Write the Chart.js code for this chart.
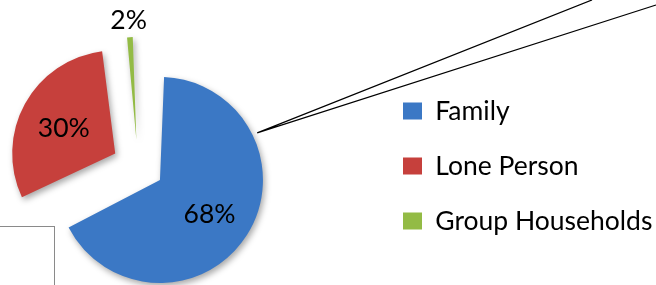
<!DOCTYPE html>
<html>
<head>
<meta charset="utf-8">
<title>Household types</title>
<script src="https://cdn.jsdelivr.net/npm/chart.js@4.4.1/dist/chart.umd.min.js"></script>
<style>
    html, body { margin: 0; padding: 0; background: #ffffff; }
    #wrap { position: relative; width: 656px; height: 285px; overflow: hidden; }
    /* stray frame from the source page, bottom left */
    #frame { position: absolute; left: -2px; top: 226px; width: 56px; height: 80px;
             border-top: 1px solid #8a8a8a; border-right: 1px solid #8a8a8a; }
    /* the canvas is wider than the window on both sides (overflow hidden),
       so the pie can sit close to the left edge and the legend reach the right edge */
    #householdChart { position: absolute; left: -120px; top: 0; }
</style>
</head>
<body>
<div id="wrap">
    <div id="frame"></div>
    <canvas id="householdChart" width="816" height="285"></canvas>
</div>
<script>
// --- DATA ---
const categories = ['Family', 'Lone Person', 'Group Households'];
const shares = [68, 30, 2];
const sliceColors = ['#3b78c5', '#c6403c', '#93bb45'];

// --- LOOK ---
const SHIFT = 120;        // canvas starts this far left of the window
const VIEW_W = 656;
const CANVAS_W = 816, CANVAS_H = 285;
const PIE_R = 103;        // outer radius of every slice
const EXPLODE = 26;       // how far each slice is pulled out
const FONT = { family: 'Lato', size: 26.5 };
const LEGEND_GAP = 28.5;  // legend padding (row step = size + gap)
const LEGEND_SWATCH = 19;
const LEGEND_BOX_X = 403 + SHIFT; // where the legend squares should start
const PIE_CX = 138 + SHIFT, PIE_CY = 166;

// legend width depends on the widest label, so measure it first
// (Chart.js adds 10px to a vertical legend's width)
const measureCtx = document.createElement('canvas').getContext('2d');
measureCtx.font = `${FONT.size}px ${FONT.family}`;
const widest = Math.max(...categories.map(c => measureCtx.measureText(c).width));
const itemWidth = LEGEND_SWATCH + FONT.size / 2 + widest + 10;
const padRight = Math.max(CANVAS_W - LEGEND_BOX_X - itemWidth, 0);
const padLeft = Math.max(2 * PIE_CX - (LEGEND_BOX_X - LEGEND_GAP), 0);
const padTop = 2 * PIE_CY - CANVAS_H;

// Chart.js grows the outer radius of an exploded arc, pull it back so all slices match
const explodeFix = {
    id: 'explodeFix',
    afterDatasetUpdate(chart, args) {
        args.meta.data.forEach(arc => {
            const fix = 1 - Math.sin(Math.min(Math.PI, arc.circumference));
            arc.outerRadius = PIE_R - EXPLODE * fix;
        });
    }
};

// soft drop shadow under the slices
const sliceShadow = {
    id: 'sliceShadow',
    beforeDatasetsDraw(chart) {
        const ctx = chart.ctx;
        ctx.save();
        ctx.shadowColor = 'rgba(0,0,0,0.35)';
        ctx.shadowBlur = 6;
        ctx.shadowOffsetX = 2;
        ctx.shadowOffsetY = 3;
    },
    afterDatasetsDraw(chart) {
        chart.ctx.restore();
    }
};

// percentage labels, small slices go outside
const sliceLabels = {
    id: 'sliceLabels',
    afterDatasetsDraw(chart) {
        const ctx = chart.ctx;
        const meta = chart.getDatasetMeta(0);
        ctx.save();
        ctx.font = `${FONT.size}px ${FONT.family}`;
        ctx.fillStyle = '#000000';
        ctx.textAlign = 'center';
        ctx.textBaseline = 'middle';
        meta.data.forEach((arc, i) => {
            const mid = (arc.startAngle + arc.endAngle) / 2;
            const ax = arc.x + Math.cos(mid) * EXPLODE;
            const ay = arc.y + Math.sin(mid) * EXPLODE;
            const dist = shares[i] < 5 ? PIE_R + 20 : PIE_R * 0.57;
            ctx.fillText(shares[i] + '%', ax + Math.cos(mid) * dist, ay + Math.sin(mid) * dist + 3);
        });
        ctx.restore();
    }
};

// the two callout lines leaving the Family slice towards the top right
const calloutLines = {
    id: 'calloutLines',
    afterDraw(chart) {
        const ctx = chart.ctx;
        const arc = chart.getDatasetMeta(0).data[0];
        const mid = (arc.startAngle + arc.endAngle) / 2;
        const ang = -0.45;
        const sx = arc.x + Math.cos(mid) * EXPLODE + Math.cos(ang) * (PIE_R + 5);
        const sy = arc.y + Math.sin(mid) * EXPLODE + Math.sin(ang) * (PIE_R + 5);
        const right = SHIFT + VIEW_W;
        ctx.save();
        ctx.strokeStyle = '#000000';
        ctx.lineWidth = 1.3;
        ctx.beginPath();
        ctx.moveTo(sx, sy);
        ctx.lineTo(right - 64, 0);
        ctx.moveTo(sx, sy);
        ctx.lineTo(right, 5);
        ctx.stroke();
        ctx.restore();
    }
};

const ctx = document.getElementById('householdChart').getContext('2d');
const householdChart = new Chart(ctx, {
    type: 'pie',
    data: {
        labels: categories,
        datasets: [{
            data: shares,
            backgroundColor: sliceColors,
            borderWidth: 0,
            offset: EXPLODE * 4,
            radius: PIE_R
        }]
    },
    options: {
        responsive: false,
        animation: false,
        layout: { padding: { left: padLeft, right: padRight, top: padTop, bottom: 0 } },
        plugins: {
            legend: {
                position: 'right',
                labels: {
                    font: FONT,
                    color: '#000000',
                    boxWidth: LEGEND_SWATCH,
                    boxHeight: 17,
                    padding: LEGEND_GAP
                }
            },
            tooltip: { enabled: false }
        }
    },
    plugins: [sliceShadow, explodeFix, sliceLabels, calloutLines]
});
</script>
</body>
</html>
